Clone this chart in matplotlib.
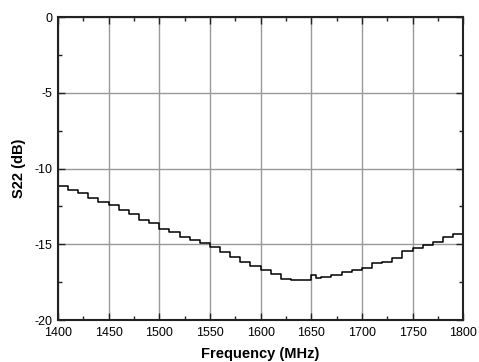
import matplotlib
matplotlib.use("Agg")
import matplotlib.pyplot as plt
from matplotlib.ticker import MultipleLocator

plt.rcParams["font.family"] = ["Liberation Sans", "DejaVu Sans"]
plt.rcParams["axes.unicode_minus"] = False

# step start frequencies (MHz) and S22 (dB)
freq = [1400, 1410, 1420, 1430, 1440, 1450, 1460, 1470, 1480, 1490,
        1500, 1510, 1520, 1530, 1540, 1550, 1560, 1570, 1580, 1590,
        1600, 1610, 1620, 1630, 1640, 1650, 1655, 1660, 1670, 1680,
        1690, 1700, 1710, 1720, 1730, 1740, 1750, 1760, 1770, 1780,
        1790, 1800]
s22 = [-11.15, -11.42, -11.60, -11.97, -12.19, -12.41, -12.74, -13.00, -13.40, -13.58,
       -14.01, -14.17, -14.50, -14.72, -14.94, -15.16, -15.49, -15.82, -16.19, -16.41,
       -16.70, -16.96, -17.29, -17.33, -17.38, -17.00, -17.20, -17.14, -17.00, -16.83,
       -16.68, -16.55, -16.26, -16.15, -15.91, -15.45, -15.27, -15.05, -14.85, -14.54,
       -14.32, -14.32]

fig = plt.figure(figsize=(4.79, 3.62), dpi=100)
ax = fig.add_axes([0.121, 0.116, 0.846, 0.837])

ax.step(freq, s22, where="post", color="black", lw=1.1)

ax.set_xlim(1400, 1800)
ax.set_ylim(-20, 0)
ax.xaxis.set_major_locator(MultipleLocator(50))
ax.xaxis.set_minor_locator(MultipleLocator(25))
ax.yaxis.set_major_locator(MultipleLocator(5))
ax.yaxis.set_minor_locator(MultipleLocator(2.5))
ax.grid(which="major", color="#999999", lw=1.0)
ax.tick_params(which="both", direction="in", top=True, right=True,
               labelsize=9, width=1.0, colors="#222222", labelcolor="black")
ax.tick_params(which="major", length=5)
ax.tick_params(which="minor", length=3)
ax.tick_params(axis="x", which="major", pad=5)
ax.tick_params(axis="y", which="major", pad=4)
for s in ax.spines.values():
    s.set_linewidth(1.5)
    s.set_color("#222222")

ax.set_xlabel("Frequency (MHz)", fontsize=10.5, fontweight="bold", labelpad=6)
ax.set_ylabel("S22 (dB)", fontsize=10.5, fontweight="bold", labelpad=6)

fig.savefig("out.png", dpi=100)
